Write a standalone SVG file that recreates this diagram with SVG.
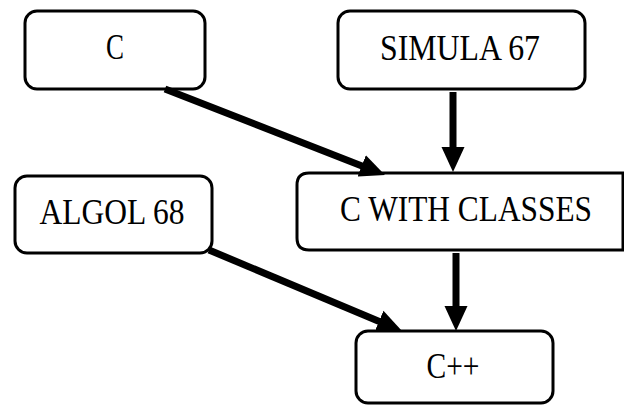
<svg xmlns="http://www.w3.org/2000/svg" width="624" height="405" viewBox="0 0 624 405">
  <style>
    .box { fill: #ffffff; stroke: #000000; stroke-width: 3; }
    .label { font-family: "Liberation Serif", "Times New Roman", serif; font-size: 35px; fill: #000000; text-anchor: middle; }
    .edge { stroke: #000000; stroke-width: 7; fill: none; marker-end: url(#head); }
  </style>
  <defs>
    <marker id="head" markerUnits="userSpaceOnUse" markerWidth="26" markerHeight="24" refX="1" refY="12" orient="auto" viewBox="0 0 26 24">
      <path d="M0,0.5 L25,12 L0,23.5 Z" fill="#000000"/>
    </marker>
  </defs>
  <rect width="624" height="405" fill="#ffffff"/>

  <g id="node-c">
    <rect class="box" x="25" y="11" width="180" height="78" rx="12"/>
    <text class="label" x="115" y="59" textLength="18" lengthAdjust="spacingAndGlyphs">C</text>
  </g>
  <g id="node-simula">
    <rect class="box" x="338" y="11" width="247" height="78" rx="12"/>
    <text class="label" x="460" y="60" textLength="160" lengthAdjust="spacingAndGlyphs">SIMULA 67</text>
  </g>
  <g id="node-algol">
    <rect class="box" x="15" y="176" width="197" height="77" rx="12"/>
    <text class="label" x="112" y="224" textLength="145" lengthAdjust="spacingAndGlyphs">ALGOL 68</text>
  </g>
  <g id="node-cwc">
    <!-- right side runs to the page edge -->
    <path class="box" d="M623,173 L309,173 Q297,173 297,185 L297,238 Q297,250 309,250 L623,250 Z"/>
    <text class="label" x="466" y="221" textLength="252" lengthAdjust="spacingAndGlyphs">C WITH CLASSES</text>
  </g>
  <g id="node-cpp">
    <rect class="box" x="356" y="331" width="197" height="72" rx="12"/>
    <text class="label" x="453" y="378" textLength="53" lengthAdjust="spacingAndGlyphs">C++</text>
  </g>

  <g id="connectors">
    <line class="edge" x1="165" y1="89" x2="362.6" y2="166.3"/>
    <line class="edge" x1="453" y1="92" x2="453" y2="148"/>
    <line class="edge" x1="209" y1="250" x2="379.9" y2="321.7"/>
    <line class="edge" x1="456" y1="253" x2="456" y2="307"/>
  </g>
</svg>
